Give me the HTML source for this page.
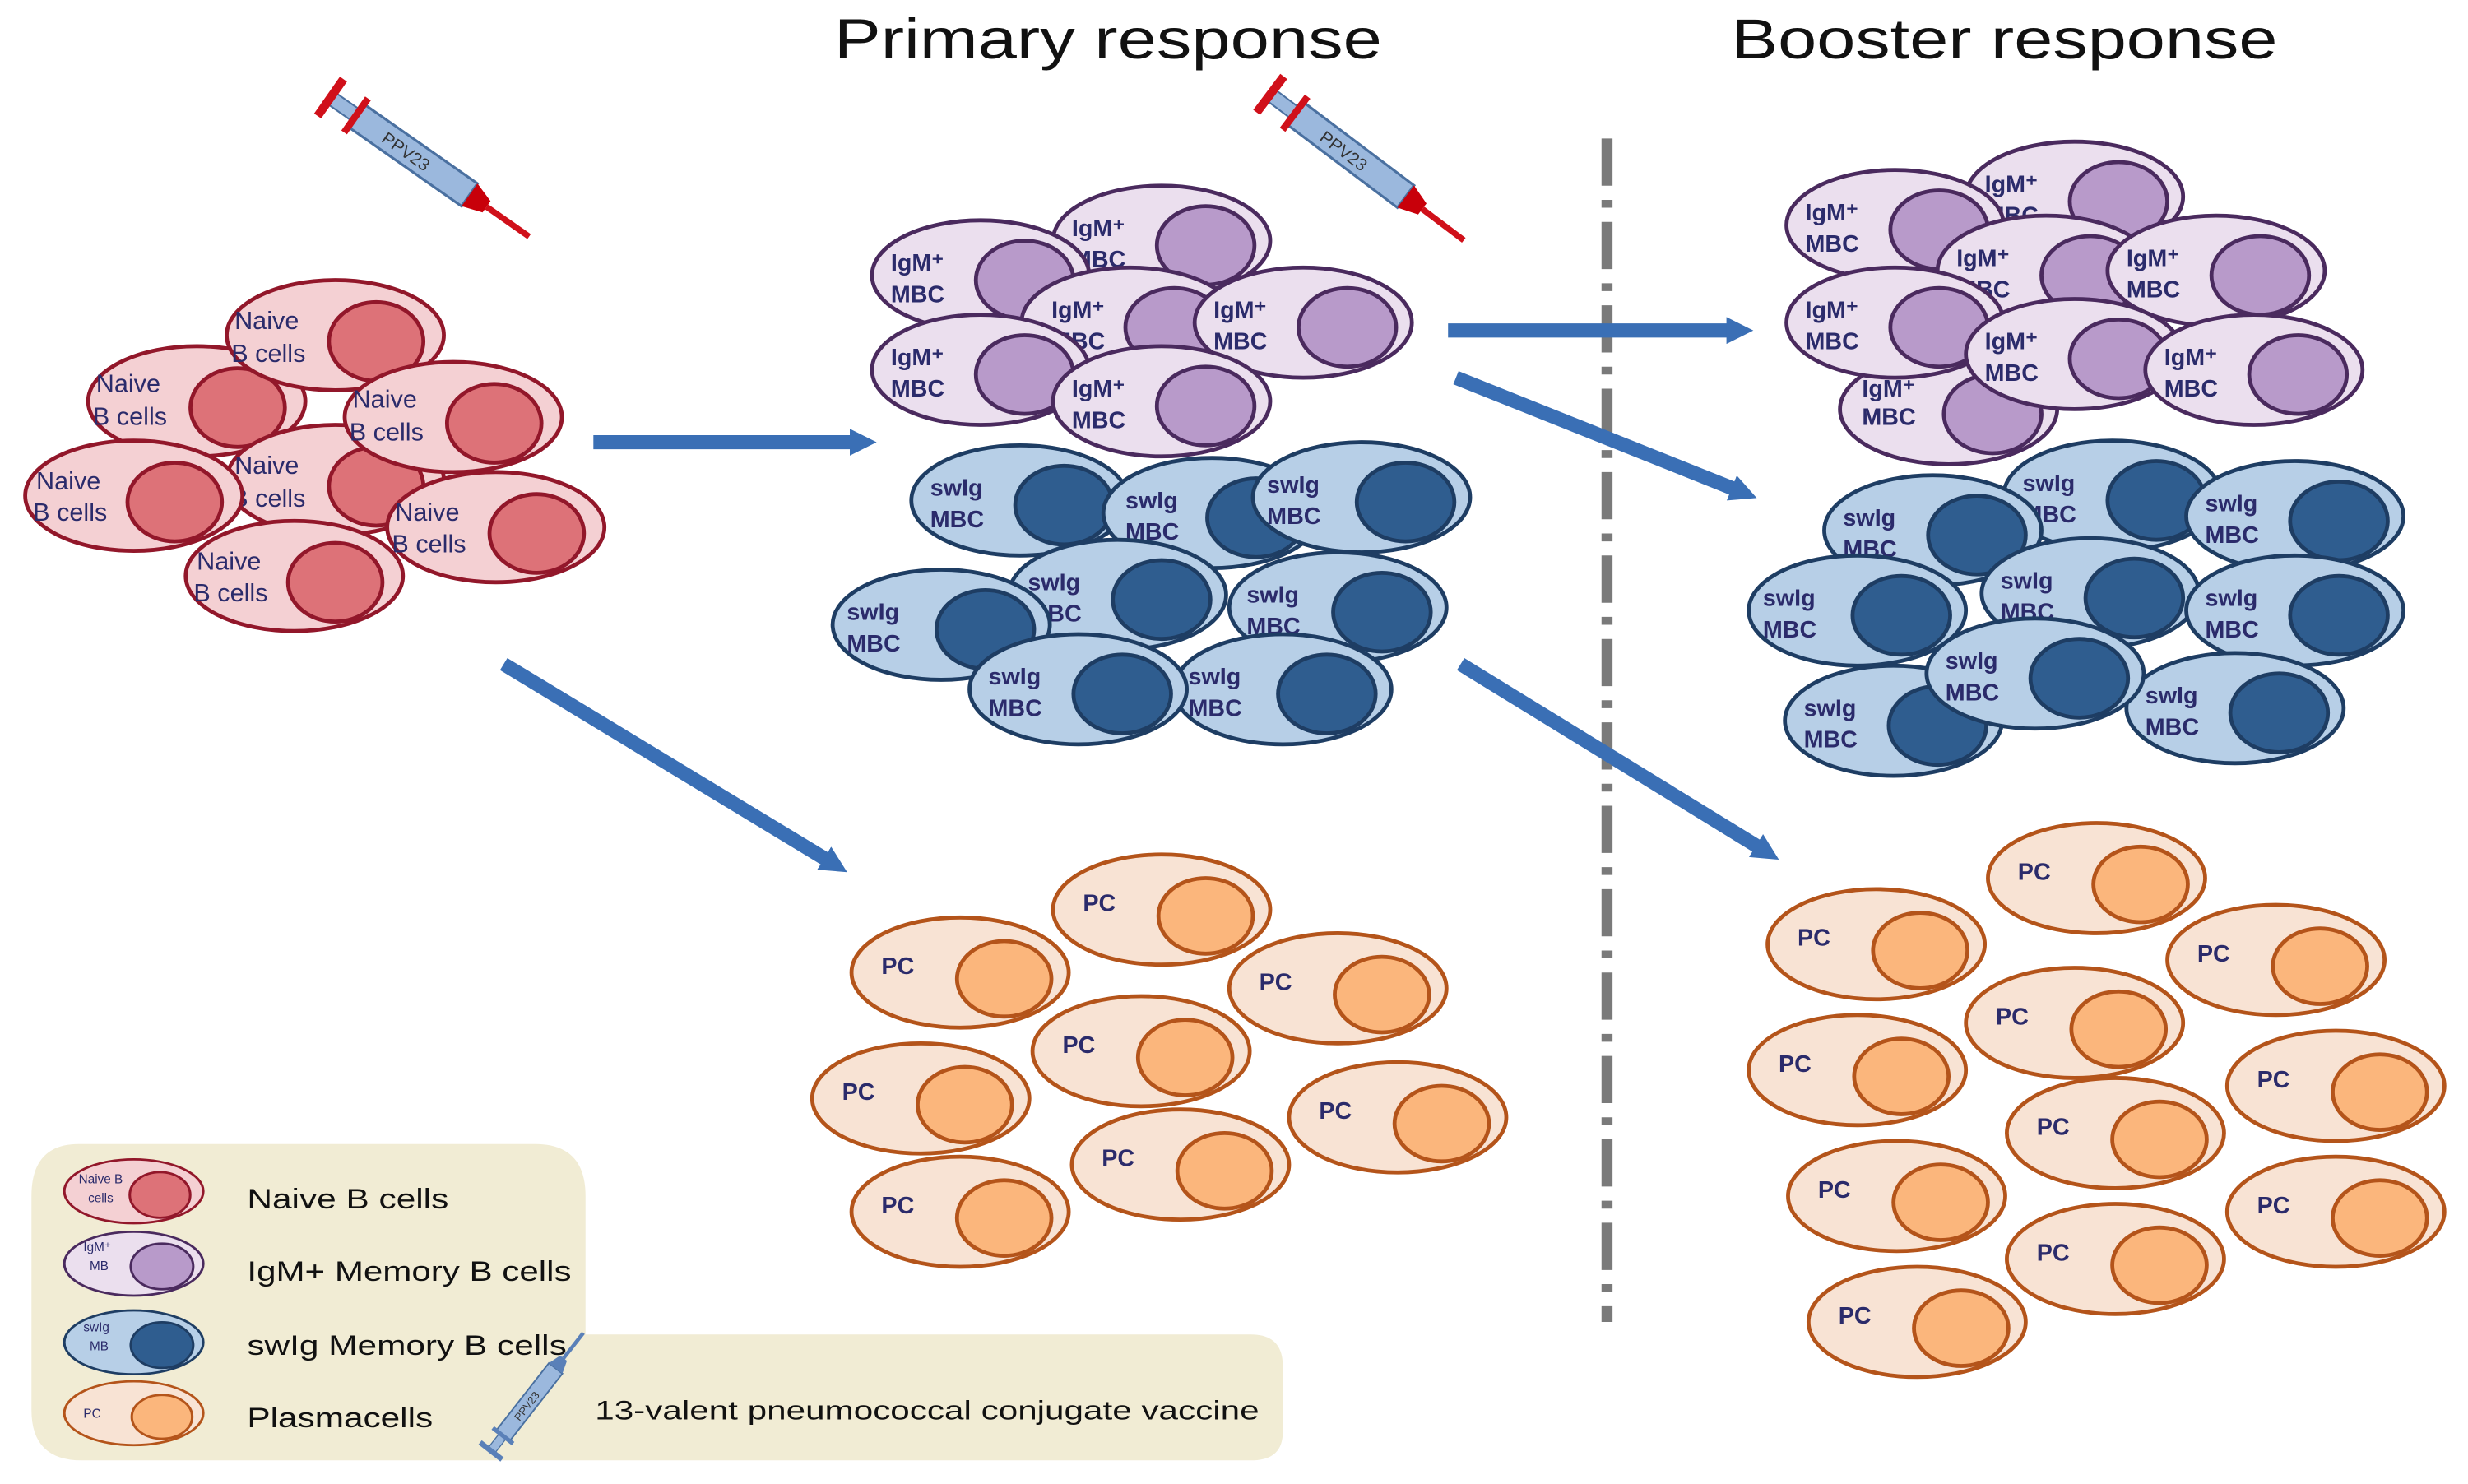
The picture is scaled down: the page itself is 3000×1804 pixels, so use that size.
<!DOCTYPE html>
<html><head><meta charset="utf-8"><style>
html,body{margin:0;padding:0;background:#fff;}
svg{display:block;}
text{font-family:"Liberation Sans",sans-serif;}
.t{font-size:15px;fill:#2b2b6b;font-weight:bold;}
.n{font-size:16px;fill:#2b2b6b;}
</style></head><body>
<svg width="3000" height="1804" viewBox="0 0 1568 943" preserveAspectRatio="none" xmlns="http://www.w3.org/2000/svg">
<defs>
<g id="nv"><ellipse rx="69" ry="35" fill="#f4d0d3" stroke="#92172a" stroke-width="2.5"/><ellipse cx="26" cy="4" rx="30" ry="25" fill="#dd7278" stroke="#92172a" stroke-width="2.5"/></g>
<g id="ig"><ellipse rx="69" ry="35" fill="#ebdfee" stroke="#4a2a5e" stroke-width="2.5"/><ellipse cx="28" cy="3" rx="31" ry="25" fill="#b89aca" stroke="#4a2a5e" stroke-width="2.5"/></g>
<g id="sw"><ellipse rx="69" ry="35" fill="#b7cfe7" stroke="#1e3d63" stroke-width="2.5"/><ellipse cx="28" cy="3" rx="31" ry="25" fill="#2f5d8f" stroke="#1e3d63" stroke-width="2.5"/></g>
<g id="pc"><ellipse rx="69" ry="35" fill="#f8e3d4" stroke="#b4541a" stroke-width="2.5"/><ellipse cx="28" cy="4" rx="30" ry="24" fill="#fbb67c" stroke="#b4541a" stroke-width="2.5"/></g>
<g id="syr">
<rect x="0" y="-4" width="18" height="8" fill="#9bb8dd" stroke="#4a70a0" stroke-width="1"/>
<rect x="18" y="-8" width="80" height="16" fill="#9bb8dd" stroke="#4a70a0" stroke-width="1.5"/>
<line x1="0" y1="-13" x2="0" y2="13" stroke="#d0101a" stroke-width="5"/>
<line x1="18" y1="-12" x2="18" y2="12" stroke="#d0101a" stroke-width="4"/>
<polygon points="98,-8 110,-4 110,4 98,8" fill="#c8000a"/>
<line x1="110" y1="0" x2="140" y2="0" stroke="#d0101a" stroke-width="3.5"/>
<text x="38" y="4" font-size="10" fill="#333">PPV23</text>
</g>
<g id="syrb">
<rect x="0" y="-4" width="18" height="8" fill="#9bb8dd" stroke="#4a70a0" stroke-width="1"/>
<rect x="18" y="-8" width="80" height="16" fill="#9bb8dd" stroke="#4a70a0" stroke-width="1.5"/>
<line x1="0" y1="-13" x2="0" y2="13" stroke="#5a80b8" stroke-width="5"/>
<line x1="18" y1="-12" x2="18" y2="12" stroke="#5a80b8" stroke-width="4"/>
<polygon points="98,-8 110,-4 110,4 98,8" fill="#5a80b8"/>
<line x1="110" y1="0" x2="140" y2="0" stroke="#5a80b8" stroke-width="3.5"/>
<text x="38" y="4" font-size="10" fill="#333">PPV23</text>
</g>
<marker id="ah" viewBox="0 0 10 10" markerWidth="1.9" markerHeight="2.3" refX="3" refY="5" orient="auto"><polygon points="0,0 10,5 0,10" fill="#3a6fb5"/></marker>
</defs>

<text x="530" y="37" font-size="36" fill="#111" textLength="348" lengthAdjust="spacingAndGlyphs">Primary response</text>
<text x="1100" y="37" font-size="36" fill="#111" textLength="347" lengthAdjust="spacingAndGlyphs">Booster response</text>

<line x1="1021" y1="88" x2="1021" y2="840" stroke="#7a7a7a" stroke-width="7" stroke-dasharray="30,9,5,9"/>

<g transform="translate(210,62) rotate(35) scale(1.1)"><use href="#syr"/></g>
<g transform="translate(807,60) rotate(37) scale(1.1)"><use href="#syr"/></g>

<g stroke="#3a6fb5" stroke-width="9" fill="none" marker-end="url(#ah)">
<line x1="377" y1="281" x2="545" y2="281"/>
<line x1="320" y1="422" x2="528" y2="548"/>
<line x1="920" y1="210" x2="1102" y2="210"/>
<line x1="925" y1="240" x2="1105" y2="312"/>
<line x1="928" y1="422" x2="1120" y2="540"/>
</g>

<!-- naive -->
<g transform="translate(125,255)"><use href="#nv"/><text class="n" x="-64" y="-6">Naive</text><text class="n" x="-66" y="15">B cells</text></g>
<g transform="translate(213,213)"><use href="#nv"/><text class="n" x="-64" y="-4">Naive</text><text class="n" x="-66" y="17">B cells</text></g>
<g transform="translate(213,305)"><use href="#nv"/><text class="n" x="-64" y="-4">Naive</text><text class="n" x="-66" y="17">B cells</text></g>
<g transform="translate(288,265)"><use href="#nv"/><text class="n" x="-64" y="-6">Naive</text><text class="n" x="-66" y="15">B cells</text></g>
<g transform="translate(85,315)"><use href="#nv"/><text class="n" x="-62" y="-4">Naive</text><text class="n" x="-64" y="16">B cells</text></g>
<g transform="translate(315,335)"><use href="#nv"/><text class="n" x="-64" y="-4">Naive</text><text class="n" x="-66" y="16">B cells</text></g>
<g transform="translate(187,366)"><use href="#nv"/><text class="n" x="-62" y="-4">Naive</text><text class="n" x="-64" y="16">B cells</text></g>

<!-- IgM primary -->
<g transform="translate(738,153)"><use href="#ig"/><text class="t" x="-57" y="-3">IgM⁺</text><text class="t" x="-57" y="17">MBC</text></g>
<g transform="translate(623,175)"><use href="#ig"/><text class="t" x="-57" y="-3">IgM⁺</text><text class="t" x="-57" y="17">MBC</text></g>
<g transform="translate(718,205)"><use href="#ig"/><text class="t" x="-50" y="-3">IgM⁺</text><text class="t" x="-50" y="17">MBC</text></g>
<g transform="translate(828,205)"><use href="#ig"/><text class="t" x="-57" y="-3">IgM⁺</text><text class="t" x="-57" y="17">MBC</text></g>
<g transform="translate(623,235)"><use href="#ig"/><text class="t" x="-57" y="-3">IgM⁺</text><text class="t" x="-57" y="17">MBC</text></g>
<g transform="translate(738,255)"><use href="#ig"/><text class="t" x="-57" y="-3">IgM⁺</text><text class="t" x="-57" y="17">MBC</text></g>

<!-- swIg primary -->
<g transform="translate(648,318)"><use href="#sw"/><text class="t" x="-57" y="-3">swIg</text><text class="t" x="-57" y="17">MBC</text></g>
<g transform="translate(770,326)"><use href="#sw"/><text class="t" x="-55" y="-3">swIg</text><text class="t" x="-55" y="17">MBC</text></g>
<g transform="translate(865,316)"><use href="#sw"/><text class="t" x="-60" y="-3">swIg</text><text class="t" x="-60" y="17">MBC</text></g>
<g transform="translate(710,378)"><use href="#sw"/><text class="t" x="-57" y="-3">swIg</text><text class="t" x="-57" y="17">MBC</text></g>
<g transform="translate(598,397)"><use href="#sw"/><text class="t" x="-60" y="-3">swIg</text><text class="t" x="-60" y="17">MBC</text></g>
<g transform="translate(850,386)"><use href="#sw"/><text class="t" x="-58" y="-3">swIg</text><text class="t" x="-58" y="17">MBC</text></g>
<g transform="translate(815,438)"><use href="#sw"/><text class="t" x="-60" y="-3">swIg</text><text class="t" x="-60" y="17">MBC</text></g>
<g transform="translate(685,438)"><use href="#sw"/><text class="t" x="-57" y="-3">swIg</text><text class="t" x="-57" y="17">MBC</text></g>

<!-- PC primary -->
<g transform="translate(738,578)"><use href="#pc"/><text class="t" x="-50" y="1">PC</text></g>
<g transform="translate(610,618)"><use href="#pc"/><text class="t" x="-50" y="1">PC</text></g>
<g transform="translate(850,628)"><use href="#pc"/><text class="t" x="-50" y="1">PC</text></g>
<g transform="translate(725,668)"><use href="#pc"/><text class="t" x="-50" y="1">PC</text></g>
<g transform="translate(585,698)"><use href="#pc"/><text class="t" x="-50" y="1">PC</text></g>
<g transform="translate(888,710)"><use href="#pc"/><text class="t" x="-50" y="1">PC</text></g>
<g transform="translate(750,740)"><use href="#pc"/><text class="t" x="-50" y="1">PC</text></g>
<g transform="translate(610,770)"><use href="#pc"/><text class="t" x="-50" y="1">PC</text></g>

<!-- IgM booster -->
<g transform="translate(1238,260)"><use href="#ig"/><text class="t" x="-55" y="-8">IgM⁺</text><text class="t" x="-55" y="10">MBC</text></g>
<g transform="translate(1318,125)"><use href="#ig"/><text class="t" x="-57" y="-3">IgM⁺</text><text class="t" x="-57" y="17">MBC</text></g>
<g transform="translate(1204,143)"><use href="#ig"/><text class="t" x="-57" y="-3">IgM⁺</text><text class="t" x="-57" y="17">MBC</text></g>
<g transform="translate(1300,172)"><use href="#ig"/><text class="t" x="-57" y="-3">IgM⁺</text><text class="t" x="-57" y="17">MBC</text></g>
<g transform="translate(1408,172)"><use href="#ig"/><text class="t" x="-57" y="-3">IgM⁺</text><text class="t" x="-57" y="17">MBC</text></g>
<g transform="translate(1204,205)"><use href="#ig"/><text class="t" x="-57" y="-3">IgM⁺</text><text class="t" x="-57" y="17">MBC</text></g>
<g transform="translate(1318,225)"><use href="#ig"/><text class="t" x="-57" y="-3">IgM⁺</text><text class="t" x="-57" y="17">MBC</text></g>
<g transform="translate(1432,235)"><use href="#ig"/><text class="t" x="-57" y="-3">IgM⁺</text><text class="t" x="-57" y="17">MBC</text></g>

<!-- swIg booster -->
<g transform="translate(1342,315)"><use href="#sw"/><text class="t" x="-57" y="-3">swIg</text><text class="t" x="-57" y="17">MBC</text></g>
<g transform="translate(1228,337)"><use href="#sw"/><text class="t" x="-57" y="-3">swIg</text><text class="t" x="-57" y="17">MBC</text></g>
<g transform="translate(1458,328)"><use href="#sw"/><text class="t" x="-57" y="-3">swIg</text><text class="t" x="-57" y="17">MBC</text></g>
<g transform="translate(1328,377)"><use href="#sw"/><text class="t" x="-57" y="-3">swIg</text><text class="t" x="-57" y="17">MBC</text></g>
<g transform="translate(1180,388)"><use href="#sw"/><text class="t" x="-60" y="-3">swIg</text><text class="t" x="-60" y="17">MBC</text></g>
<g transform="translate(1458,388)"><use href="#sw"/><text class="t" x="-57" y="-3">swIg</text><text class="t" x="-57" y="17">MBC</text></g>
<g transform="translate(1420,450)"><use href="#sw"/><text class="t" x="-57" y="-3">swIg</text><text class="t" x="-57" y="17">MBC</text></g>
<g transform="translate(1203,458)"><use href="#sw"/><text class="t" x="-57" y="-3">swIg</text><text class="t" x="-57" y="17">MBC</text></g>
<g transform="translate(1293,428)"><use href="#sw"/><text class="t" x="-57" y="-3">swIg</text><text class="t" x="-57" y="17">MBC</text></g>

<!-- PC booster -->
<g transform="translate(1332,558)"><use href="#pc"/><text class="t" x="-50" y="1">PC</text></g>
<g transform="translate(1192,600)"><use href="#pc"/><text class="t" x="-50" y="1">PC</text></g>
<g transform="translate(1446,610)"><use href="#pc"/><text class="t" x="-50" y="1">PC</text></g>
<g transform="translate(1318,650)"><use href="#pc"/><text class="t" x="-50" y="1">PC</text></g>
<g transform="translate(1180,680)"><use href="#pc"/><text class="t" x="-50" y="1">PC</text></g>
<g transform="translate(1484,690)"><use href="#pc"/><text class="t" x="-50" y="1">PC</text></g>
<g transform="translate(1344,720)"><use href="#pc"/><text class="t" x="-50" y="1">PC</text></g>
<g transform="translate(1205,760)"><use href="#pc"/><text class="t" x="-50" y="1">PC</text></g>
<g transform="translate(1484,770)"><use href="#pc"/><text class="t" x="-50" y="1">PC</text></g>
<g transform="translate(1344,800)"><use href="#pc"/><text class="t" x="-50" y="1">PC</text></g>
<g transform="translate(1218,840)"><use href="#pc"/><text class="t" x="-50" y="1">PC</text></g>

<!-- legend -->
<path d="M50,727 H340 Q372,727 372,760 V848 H795 Q815,848 815,868 V910 Q815,928 795,928 H52 Q20,928 20,896 V760 Q20,727 50,727 Z" fill="#f1ecd4"/>
<g transform="translate(85,757) scale(0.64,0.58)"><use href="#nv"/></g>
<text x="50" y="752" font-size="8" fill="#2b2b6b">Naive B</text><text x="56" y="764" font-size="8" fill="#2b2b6b">cells</text>
<g transform="translate(85,803) scale(0.64,0.58)"><use href="#ig"/></g>
<text x="53" y="795" font-size="8" fill="#2b2b6b">IgM⁺</text><text x="57" y="807" font-size="8" fill="#2b2b6b">MB</text>
<g transform="translate(85,853) scale(0.64,0.58)"><use href="#sw"/></g>
<text x="53" y="846" font-size="8" fill="#2b2b6b">swIg</text><text x="57" y="858" font-size="8" fill="#2b2b6b">MB</text>
<g transform="translate(85,898) scale(0.64,0.58)"><use href="#pc"/></g>
<text x="53" y="901" font-size="8" fill="#2b2b6b">PC</text>
<text x="157" y="768" font-size="18" fill="#111" textLength="128" lengthAdjust="spacingAndGlyphs">Naive B cells</text>
<text x="157" y="814" font-size="18" fill="#111" textLength="206" lengthAdjust="spacingAndGlyphs">IgM+ Memory B cells</text>
<text x="157" y="861" font-size="18" fill="#111" textLength="203" lengthAdjust="spacingAndGlyphs">swIg Memory B cells</text>
<text x="157" y="907" font-size="18" fill="#111" textLength="118" lengthAdjust="spacingAndGlyphs">Plasmacells</text>
<g transform="translate(312,922) rotate(-52) scale(0.68)"><use href="#syrb"/></g>
<text x="378" y="902" font-size="17" fill="#111" textLength="422" lengthAdjust="spacingAndGlyphs">13-valent pneumococcal conjugate vaccine</text>
</svg>
</body></html>
